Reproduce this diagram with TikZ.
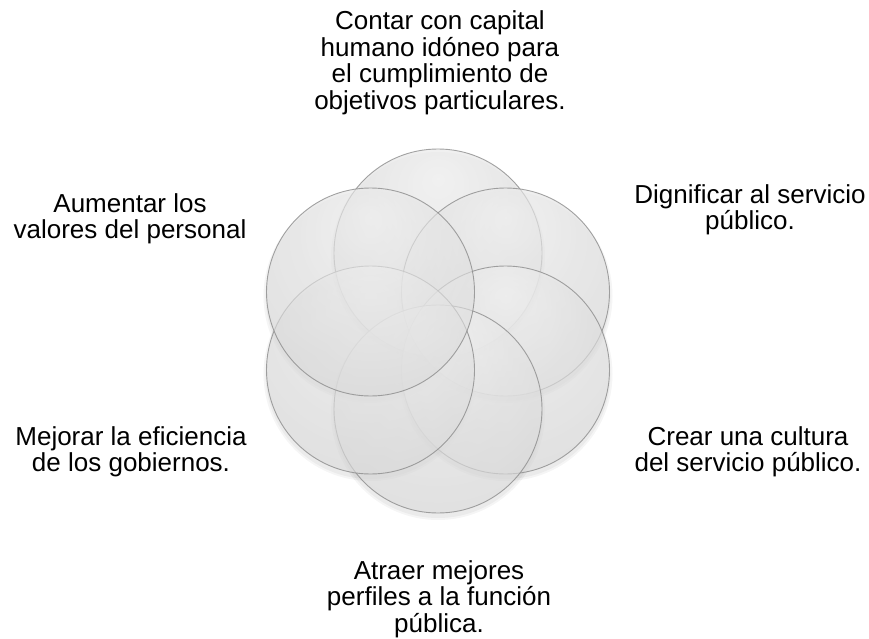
\documentclass[tikz,border=0pt]{standalone}
\usepackage{fontspec}
\setmainfont{Liberation Sans}
\pgfdeclareradialshading{glassshade}{\pgfpoint{0bp}{18bp}}{%
  color(0bp)=(gray!8);
  color(18bp)=(gray!20);
  color(38bp)=(gray!30);
  color(50bp)=(gray!42);
  color(60bp)=(gray!54);
  color(70bp)=(gray!62)}
\tikzset{
  glass/.style={circle, minimum size=208pt, inner sep=0pt,
    shading=glassshade, fill opacity=0.62,
    draw=gray!90, line width=0.9pt, draw opacity=0.8},
  glow/.style={circle, minimum size=#1, inner sep=0pt,
    fill=black, fill opacity=0.04},
  lbl/.style={align=center, text=black, inner sep=0pt,
    font=\fontsize{26}{26.5}\selectfont}
}
\begin{document}
\begin{tikzpicture}[x=1pt,y=-1pt]
\useasboundingbox (0,0) rectangle (869,639);
\fill[white] (0,0) rectangle (869,639);
% soft shadows
\foreach \p in {(438,257),(505.5,296),(505.5,374),(438,413),(370.5,374),(370.5,296)}{
  \node[glow=214pt] at \p {};
  \node[glow=210pt] at \p {};
}
% circles
\node[glass] (c1) at (438,253) {};
\node[glass] (c2) at (505.5,292) {};
\node[glass] (c3) at (505.5,370) {};
\node[glass] (c4) at (438,409) {};
\node[glass] (c5) at (370.5,370) {};
\node[glass] (c6) at (370.5,292) {};
% labels
\node[lbl] (t1) at (440,63) {Contar con capital\\humano idóneo para\\el cumplimiento de\\objetivos particulares.};
\node[lbl] (t2) at (750,210) {Dignificar al servicio\\público.};
\node[lbl] (t3) at (748,452) {Crear una cultura\\del servicio público.};
\node[lbl] (t4) at (439,599) {Atraer mejores\\perfiles a la función\\pública.};
\node[lbl] (t5) at (131,452) {Mejorar la eficiencia\\de los gobiernos.};
\node[lbl] (t6) at (130,219) {Aumentar los\\valores del personal};
\end{tikzpicture}
\end{document}
